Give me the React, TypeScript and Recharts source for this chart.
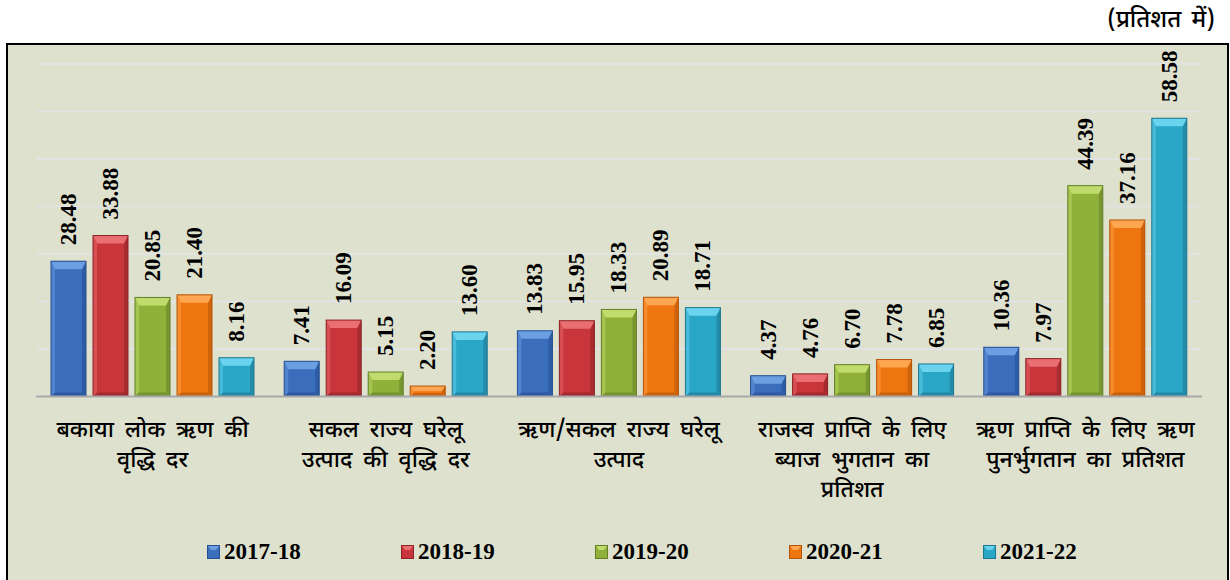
import React from "react";
import {
  BarChart,
  Bar,
  XAxis,
  YAxis,
  CartesianGrid,
  Legend,
  LabelList,
} from "recharts";

const categories = [
  "बकाया लोक ऋण की\nवृद्धि दर",
  "सकल राज्य घरेलू\nउत्पाद की वृद्धि दर",
  "ऋण/सकल राज्य घरेलू\nउत्पाद",
  "राजस्व प्राप्ति के लिए\nब्याज भुगतान का\nप्रतिशत",
  "ऋण प्राप्ति के लिए ऋण\nपुनर्भुगतान का प्रतिशत",
];

const years = ["2017-18", "2018-19", "2019-20", "2020-21", "2021-22"];

const v2017 = [28.48, 7.41, 13.83, 4.37, 10.36];
const v2018 = [33.88, 16.09, 15.95, 4.76, 7.97];
const v2019 = [20.85, 5.15, 18.33, 6.7, 44.39];
const v2020 = [21.4, 2.2, 20.89, 7.78, 37.16];
const v2021 = [8.16, 13.6, 18.71, 6.85, 58.58];

const yTicks = [0, 10, 20, 30, 40, 50, 60, 70];

const seriesValues = [v2017, v2018, v2019, v2020, v2021];

// face / highlight / shadow for each year
const palette = [
  { face: "#3b6dbd", light: "#6c9ee2", dark: "#254f90" },
  { face: "#c8363b", light: "#ea6f72", dark: "#8c2226" },
  { face: "#8fb13a", light: "#c0dc6c", dark: "#647f28" },
  { face: "#ef7510", light: "#ffa650", dark: "#b45408" },
  { face: "#2aa6c6", light: "#6ad4ee", dark: "#1c7792" },
];

const data = categories.map((name, i) => {
  const row: Record<string, string | number> = { name };
  years.forEach((y, s) => {
    row[y] = seriesValues[s][i];
  });
  return row;
});

const hindiFont =
  "'Noto Sans Devanagari', 'Lohit Devanagari', 'Mangal', 'FreeSans', sans-serif";
const serifFont = "'Liberation Serif', 'Times New Roman', serif";

const makeBevelBar = (c: { face: string; light: string; dark: string }) => (props: any) => {
  const { x, y, width, height } = props;
  if (!height || height <= 0) return null;
  const b = Math.min(4, height / 3);
  const t = Math.min(8, height / 2);
  return (
    <g>
      <rect x={x} y={y} width={width} height={height} fill={c.face} />
      <polygon
        points={`${x},${y} ${x + b},${y + t} ${x + b},${y + height - b} ${x},${y + height}`}
        fill={c.light}
        opacity={0.45}
      />
      <polygon
        points={`${x + width},${y} ${x + width - b},${y + t} ${x + width - b},${y + height - b} ${x + width},${y + height}`}
        fill={c.dark}
        opacity={0.55}
      />
      <polygon
        points={`${x},${y + height} ${x + b},${y + height - b} ${x + width - b},${y + height - b} ${x + width},${y + height}`}
        fill={c.dark}
        opacity={0.6}
      />
      <polygon
        points={`${x},${y} ${x + width},${y} ${x + width - b},${y + t} ${x + b},${y + t}`}
        fill={c.light}
      />
      <rect
        x={x}
        y={y}
        width={width}
        height={height}
        fill="none"
        stroke={c.dark}
        strokeWidth={1}
      />
    </g>
  );
};

const ValueLabel = (props: any) => {
  const { x, y, width, value } = props;
  const cx = x + width / 2;
  const cy = y - 16;
  return (
    <text
      x={cx}
      y={cy}
      transform={`rotate(-90, ${cx}, ${cy})`}
      textAnchor="start"
      dominantBaseline="central"
      fontFamily={serifFont}
      fontWeight="bold"
      fontSize={23}
      fill="#000"
    >
      {Number(value).toFixed(2)}
    </text>
  );
};

const CategoryTick = (props: any) => {
  const { x, y, payload } = props;
  const lines = String(payload.value).split("\n");
  return (
    <g>
      {lines.map((line, i) => (
        <text
          key={i}
          x={x}
          y={y + 34 + i * 30}
          textAnchor="middle"
          dominantBaseline="central"
          fontFamily={hindiFont}
          fontSize={23}
          fontWeight={500}
          wordSpacing={5}
          fill="#000"
        >
          {line}
        </text>
      ))}
    </g>
  );
};

const LegendBox = () => (
  <div
    style={{
      height: 56,
      display: "flex",
      alignItems: "center",
      paddingLeft: 199,
      boxSizing: "border-box",
    }}
  >
    {years.map((yr, i) => (
      <div
        key={yr}
        style={{ width: 194, display: "flex", alignItems: "center" }}
      >
        <svg width={13} height={14} style={{ marginRight: 4 }}>
          <rect x={0.5} y={0.5} width={12} height={13} fill={palette[i].face} stroke={palette[i].dark} />
          <polygon points="1,1 12,1 9,5 4,5" fill={palette[i].light} />
        </svg>
        <span
          style={{
            fontFamily: serifFont,
            fontWeight: "bold",
            fontSize: 23,
            color: "#000",
            lineHeight: "24px",
          }}
        >
          {yr}
        </span>
      </div>
    ))}
  </div>
);

export default function App() {
  return (
    <div
      style={{
        position: "absolute",
        left: 0,
        top: 0,
        width: 1230,
        height: 580,
        background: "#fff",
        overflow: "hidden",
      }}
    >
      <div
        style={{
          position: "absolute",
          right: 15,
          top: 5,
          fontFamily: hindiFont,
          fontSize: 24,
          fontWeight: 500,
          wordSpacing: 4,
          color: "#000",
        }}
      >
        (प्रतिशत में)
      </div>
      <div
        style={{
          position: "absolute",
          left: 6,
          top: 43,
          width: 1223,
          height: 545,
          border: "2px solid #000",
          boxSizing: "border-box",
          background: "#dee1cd",
        }}
      >
        <BarChart
          width={1219}
          height={535}
          data={data}
          margin={{ top: 19, right: 25, left: 28, bottom: 0 }}
          barSize={35}
          barGap={7}
        >
          <CartesianGrid
            vertical={false}
            stroke="#e3e3ea"
            strokeWidth={1.5}
          />
          <YAxis hide domain={[0, 70]} ticks={yTicks} />
          <XAxis
            dataKey="name"
            height={127.5}
            interval={0}
            tickLine={false}
            tickSize={0}
            tickMargin={0}
            axisLine={{ stroke: "#a8a8a8", strokeWidth: 2 }}
            tick={<CategoryTick />}
          />
          <Legend
            verticalAlign="bottom"
            wrapperStyle={{ left: 0, width: 1219 }}
            content={() => <LegendBox />}
          />
          {years.map((yr, i) => (
            <Bar
              key={yr}
              dataKey={yr}
              fill={palette[i].face}
              shape={makeBevelBar(palette[i])}
              isAnimationActive={false}
            >
              <LabelList dataKey={yr} content={<ValueLabel />} />
            </Bar>
          ))}
        </BarChart>
      </div>
    </div>
  );
}
